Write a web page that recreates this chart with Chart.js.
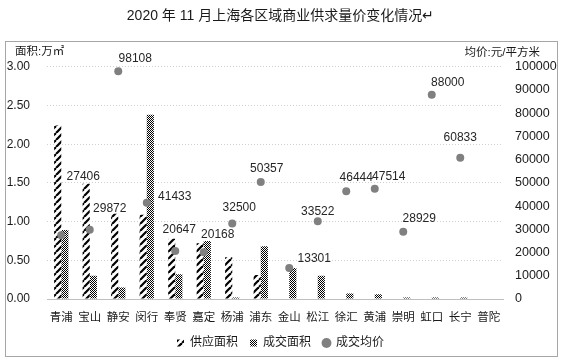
<!DOCTYPE html>
<html><head><meta charset="utf-8">
<script src="https://cdn.jsdelivr.net/npm/chart.js@4.4.1/dist/chart.umd.min.js"></script>
<style>html,body{margin:0;padding:0;background:#fff;}#wrap{position:relative;width:561px;height:359px;}</style>
</head><body><div id="wrap"><canvas id="c" width="561" height="359"></canvas></div>
<script>
// ---- data ----
const districts = ['青浦','宝山','静安','闵行','奉贤','嘉定','杨浦','浦东','金山','松江','徐汇','黄浦','崇明','虹口','长宁','普陀'];
const supplyArea = [2.24,1.49,1.10,1.09,0.78,0.72,0.54,0.31,0,0,0,0,0,0,0,0];
const dealArea   = [0.89,0.30,0.15,2.38,0.32,0.75,0.02,0.68,0.40,0.30,0.07,0.06,0.02,0.02,0.02,0];
const avgPrice   = [27406,29872,98108,41433,20647,20168,32500,50357,13301,33522,46444,47514,28929,88000,60833,null];
const seriesNames = ['供应面积','成交面积','成交均价'];
const chartTitle = '2020 年 11 月上海各区域商业供求量价变化情况↵';
const leftAxisTitle = '面积:万㎡';
const rightAxisTitle = '均价:元/平方米';

// label shifts relative to each dot (styling only)
const priceLabelShift = [[22,-59],[20,-21],[17,-13],[28,-6],[4,-21],[14,-17],[7,-16],[6,-13],[25,-9],[0,-9],[10,-13],[14,-12],[16,-13],[16,-12],[0,-20],[0,0]];

const FONT = "'Liberation Sans','Noto Sans CJK SC',sans-serif";
Chart.defaults.font.family = FONT;
Chart.defaults.color = '#1a1a1a';

function hatchPattern(){
  const T = 7, c = document.createElement('canvas'); c.width = T; c.height = T;
  const x = c.getContext('2d');
  x.fillStyle = '#fff'; x.fillRect(0,0,T,T);
  x.strokeStyle = '#000'; x.lineWidth = 2.2;
  for (const k of [-T,0,T]) { x.beginPath(); x.moveTo(k, T); x.lineTo(k+T, 0); x.stroke(); }
  return x.createPattern(c,'repeat');
}
function checkerPattern(){
  const c = document.createElement('canvas'); c.width = 2; c.height = 2;
  const x = c.getContext('2d');
  x.fillStyle = '#fff'; x.fillRect(0,0,2,2);
  x.fillStyle = '#000'; x.fillRect(0,0,1,1); x.fillRect(1,1,1,1);
  return x.createPattern(c,'repeat');
}
const ctx = document.getElementById('c').getContext('2d');
const hatch = hatchPattern(), checker = checkerPattern();

const decor = {
  id: 'decor',
  beforeDraw(chart){
    const g = chart.ctx; g.save();
    g.fillStyle = '#fff'; g.fillRect(0,0,chart.width,chart.height);
    g.strokeStyle = '#a6a6a6'; g.lineWidth = 1;
    g.strokeRect(5.5, 41.5, 552, 315);
    g.restore();
  },
  afterDatasetsDraw(chart){
    const g = chart.ctx, meta = chart.getDatasetMeta(2);
    g.save();
    g.font = "12px " + FONT; g.fillStyle = '#262626';
    g.textAlign = 'center'; g.textBaseline = 'middle';
    meta.data.forEach((pt, i) => {
      const v = avgPrice[i]; if (v == null) return;
      const s = priceLabelShift[i];
      g.fillText(String(v), pt.x + s[0], pt.y + s[1]);
    });
    g.restore();
  },
  afterDraw(chart){
    const g = chart.ctx; g.save();
    g.font = "11.5px " + FONT; g.fillStyle = '#1a1a1a'; g.textBaseline = 'middle';
    g.textAlign = 'left'; g.fillText(leftAxisTitle, 15, 52);
    g.textAlign = 'right'; g.fillText(rightAxisTitle, 540, 53);
    g.restore();
  }
};

new Chart(ctx, {
  type: 'bar',
  data: {
    labels: districts,
    datasets: [
      { label: seriesNames[0], data: supplyArea, backgroundColor: hatch, yAxisID: 'y', order: 1, pointStyle: 'rect',
        categoryPercentage: 0.5, barPercentage: 1.0 },
      { label: seriesNames[1], data: dealArea, backgroundColor: checker, yAxisID: 'y', order: 1, pointStyle: 'rect',
        categoryPercentage: 0.5, barPercentage: 1.0 },
      { type: 'line', label: seriesNames[2], data: avgPrice, yAxisID: 'y1', showLine: false, order: 0,
        pointStyle: 'circle', pointRadius: 4, backgroundColor: '#808080', borderColor: '#808080', borderWidth: 0 }
    ]
  },
  options: {
    responsive: false, animation: false, events: [],
    layout: { padding: { left: 0, right: 0, top: 0, bottom: 0 } },
    plugins: {
      title: { display: true, text: chartTitle, color: '#1a1a1a',
        font: { size: 14, weight: 'normal', family: FONT }, padding: { top: 8, bottom: 42 } },
      legend: { position: 'bottom',
        labels: { usePointStyle: true, boxWidth: 7, boxHeight: 7, padding: 12, color: '#1a1a1a',
          font: { size: 12, family: FONT }, sort: (a,b) => a.datasetIndex - b.datasetIndex } },
      tooltip: { enabled: false }
    },
    scales: {
      x: { grid: { display: false, drawTicks: false }, border: { display: true, color: '#bfbfbf' },
        ticks: { padding: 12, font: { size: 11.5 }, color: '#1a1a1a', maxRotation: 0, autoSkip: false },
        afterFit(s){ s.height = 26; } },
      y: { position: 'left', min: 0, max: 3, 
        ticks: { stepSize: 0.5, padding: 17, font: { size: 12 }, color: '#1a1a1a', callback: v => Number(v).toFixed(2) },
        grid: { drawTicks: false, color: c => c.tick.value === 0 ? 'rgba(0,0,0,0)' : '#d0d0d0' },
        border: { display: false, dash: [1,2] },
        afterFit(s){ s.width = 47; } },
      y1: { position: 'right', min: 0, max: 100000,
        ticks: { stepSize: 10000, padding: 12, font: { size: 12.5 }, color: '#1a1a1a', callback: v => String(v) },
        grid: { display: false, drawTicks: false }, border: { display: false },
        afterFit(s){ s.width = 58; } }
    }
  },
  plugins: [decor]
});
</script></body></html>
